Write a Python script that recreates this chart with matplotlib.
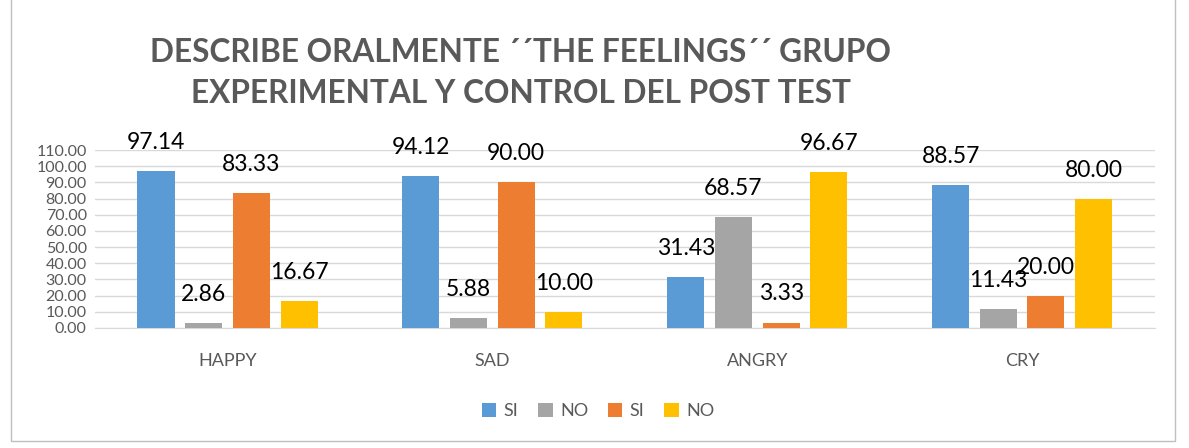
import numpy as np
import matplotlib.pyplot as plt
from matplotlib.patches import Rectangle

categories = ["HAPPY", "SAD", "ANGRY", "CRY"]
series_names = ["SI", "NO", "SI", "NO"]
si_exp = [97.14, 94.12, 31.43, 88.57]
no_exp = [2.86, 5.88, 68.57, 11.43]
si_ctl = [83.33, 90.00, 3.33, 20.00]
no_ctl = [16.67, 10.00, 96.67, 80.00]
yticks = np.arange(0, 111, 10)

colors = ["#5B9BD5", "#A5A5A5", "#ED7D31", "#FFC000"]
series = [si_exp, no_exp, si_ctl, no_ctl]
txt = "#595959"

plt.rcParams["font.family"] = ["Lato", "DejaVu Sans"]

fig = plt.figure(figsize=(11.89, 4.48), dpi=100)
ax = fig.add_axes([0.08, 0.268, 0.891, 0.397])

x = np.arange(len(categories))
width = 0.14
step = 0.18
for i, (vals, c, name) in enumerate(zip(series, colors, series_names)):
    pos = x + (i - 1.5) * step
    bars = ax.bar(pos, vals, width, color=c, label=name, zorder=3)
    for b, v in zip(bars, vals):
        ax.annotate(f"{v:.2f}", (b.get_x() + b.get_width() / 2, v),
                    xytext=(0, 13), textcoords="offset points",
                    ha="center", va="bottom", fontsize=16.5, color="black")

ax.set_xlim(-0.5, len(categories) - 0.5)
ax.set_ylim(0, 110)
ax.set_yticks(yticks)
ax.set_yticklabels([f"{t:.2f}" for t in yticks], fontsize=11.5, color=txt)
ax.set_xticks(x)
ax.set_xticklabels(categories, fontsize=13, color=txt)
ax.tick_params(axis="both", length=0, pad=6)
ax.tick_params(axis="x", pad=18)
ax.grid(axis="y", color="#D9D9D9", linewidth=1, zorder=0)
for s in ["top", "right", "left"]:
    ax.spines[s].set_visible(False)
ax.spines["bottom"].set_color("#D9D9D9")

fig.legend(loc="center", bbox_to_anchor=(0.503, 0.083), ncol=4, frameon=False,
           fontsize=13, handlelength=0.8, handleheight=0.8, handletextpad=0.4,
           columnspacing=1.1, labelcolor=txt)

fig.text(0.438, 0.836, "DESCRIBE ORALMENTE \u00b4\u00b4THE FEELINGS\u00b4\u00b4 GRUPO\nEXPERIMENTAL Y CONTROL DEL POST TEST",
         ha="center", va="center", fontsize=22.8, fontweight="bold", color=txt,
         linespacing=1.5)

fig.add_artist(Rectangle((0.009, 0.015), 0.979, 1.0, transform=fig.transFigure,
                         fill=False, edgecolor="#BFBFBF", linewidth=1))

plt.savefig("out.png", dpi=100)
